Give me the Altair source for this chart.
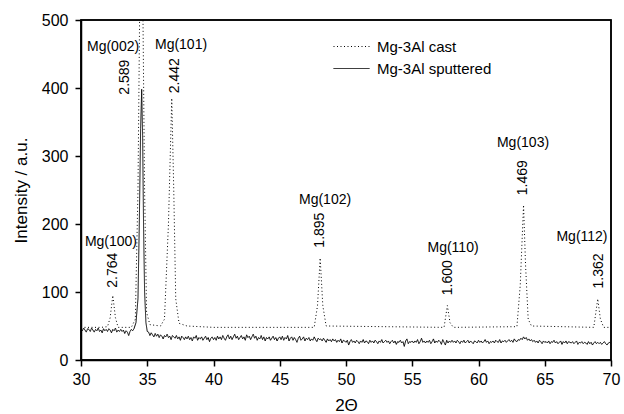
import altair as alt
import numpy as np
import pandas as pd

FONT = "Liberation Sans"

# --- Mg-3Al cast (dotted) ---
cast_x = [30.0, 31.5, 32.0, 32.2, 32.4, 32.6, 32.8, 33.8, 34.1, 34.3, 34.45, 34.65, 34.8, 34.95,
          35.2, 36.0, 36.3, 36.6, 36.85, 37.0, 37.15, 37.4, 38.0, 40.0, 47.6, 47.85, 48.05, 48.25,
          48.5, 57.4, 57.65, 57.85, 58.1, 62.9, 63.15, 63.4, 63.55, 63.75, 64.0, 68.7, 69.0, 69.2,
          69.45, 70.0]
cast_y = [48, 48, 49, 62, 95, 62, 48, 48, 60, 250, 560, 560, 250, 70,
          52, 50, 60, 200, 385, 250, 90, 54, 50, 48, 48, 80, 150, 80,
          50, 48, 80, 55, 48, 49, 110, 228, 140, 60, 50, 48, 90, 60,
          48, 48]

# --- Mg-3Al sputtered (solid) ---
sput_pre_y = [
    46, 43, 47, 44, 41, 46, 45, 42, 47, 44,
    41, 45, 43, 47, 42, 44, 40, 46, 43, 45,
    42, 46, 44, 40, 45, 43, 47, 41, 44, 42,
    45, 42, 44, 39, 43, 41, 36, 42, 45, 43,
    46,
]
sput_peak_x = [34.15, 34.3, 34.4, 34.5, 34.58, 34.65, 34.72, 34.8, 34.9, 35.0]
sput_peak_y = [55, 90, 200, 340, 398, 330, 200, 100, 55, 42]
sput_post_y = [
    41, 36, 40, 37, 34, 39, 35, 38, 33, 37,
    35, 31, 36, 34, 38, 33, 35, 30, 36, 34,
    32, 36, 31, 34, 29, 35, 33, 30, 34, 31,
    35, 30, 33, 28, 34, 32, 36, 29, 33, 31,
    34, 29, 32, 35, 30, 33, 27, 32, 34, 30,
    33, 29, 35, 31, 34, 30, 36, 32, 29, 34,
    37, 31, 35, 30, 34, 38, 32, 35, 30, 33,
    36, 31, 34, 29, 37, 33, 35, 30, 34, 38,
    32, 35, 29, 33, 31, 36, 30, 34, 28, 33,
    31, 34, 29, 32, 35, 30, 33, 28, 32, 34,
    30, 35, 29, 33, 31, 36, 28, 32, 34, 29,
    33, 30, 26, 32, 35, 29, 31, 34, 28, 32,
    30, 33, 28, 31, 29, 34, 30, 27, 32, 30,
    31, 28, 32, 29, 26, 31, 28, 30, 27, 31,
    28, 30, 26, 29, 27, 31, 25, 29, 28, 26,
    29, 22, 27, 30, 26, 28, 25, 29, 27, 24,
    28, 26, 30, 25, 28, 27, 24, 29, 26, 28,
    25, 29, 27, 24, 28, 26, 30, 25, 27, 29,
    26, 28, 24, 27, 29, 25, 28, 23, 27, 26,
    29, 25, 27, 20, 28, 31, 24, 27, 26, 28,
    25, 28, 26, 30, 24, 27, 32, 26, 28, 25,
    28, 26, 29, 24, 27, 31, 25, 28, 26, 29,
    27, 23, 30, 26, 22, 29, 25, 28, 26, 29,
    26, 28, 25, 29, 27, 24, 28, 26, 29, 25,
    27, 29, 25, 28, 26, 24, 28, 27, 25, 29,
    26, 28, 25, 27, 30, 26, 28, 24, 27, 26,
    28, 25, 29, 27, 26, 30, 25, 28, 27, 29,
    26, 28, 30, 27, 29, 26, 31, 28, 27, 30,
    29, 32, 30, 34, 31, 33, 29, 31, 28, 30,
    27, 29, 26, 28, 25, 29, 27, 24, 28, 26,
    27, 25, 28, 24, 27, 26, 29, 25, 27, 24,
    26, 28, 23, 27, 25, 28, 24, 27, 26, 25,
    27, 24, 26, 28, 23, 26, 25, 27, 24, 26,
    25, 23, 27, 24, 26, 22, 25, 27, 24, 26,
    24, 26, 23, 25, 27, 24, 22, 25, 26, 24,
]
sput_pre_x = list(np.round(30.0 + 0.1 * np.arange(len(sput_pre_y)), 2))
sput_post_x = list(np.round(35.1 + 0.1 * np.arange(len(sput_post_y)), 2))

# --- peak annotations ---
plane_labels = ["Mg(100)", "Mg(002)", "Mg(101)", "Mg(102)", "Mg(110)", "Mg(103)", "Mg(112)"]
plane_x = [32.26, 32.42, 37.55, 48.42, 58.08, 63.36, 67.81]
plane_y = [173, 460, 463, 235, 165, 319, 181]

d_labels = ["2.764", "2.589", "2.442", "1.895", "1.600", "1.469", "1.362"]
d_x = [32.42, 33.32, 37.09, 48.04, 57.70, 63.36, 69.09]
d_y = [132, 416, 418, 191, 121, 268, 131]

x_ticks = [30, 32.5, 35, 37.5, 40, 42.5, 45, 47.5, 50, 52.5, 55, 57.5, 60, 62.5, 65, 67.5, 70]
y_ticks = [0, 50, 100, 150, 200, 250, 300, 350, 400, 450, 500]
x_range = [30, 70]
y_range = [0, 500]

series_names = ["Mg-3Al cast", "Mg-3Al sputtered"]

lines = pd.concat([
    pd.DataFrame({"x": cast_x, "y": cast_y, "series": series_names[0]}),
    pd.DataFrame({"x": sput_pre_x + sput_peak_x + sput_post_x,
                  "y": sput_pre_y + sput_peak_y + sput_post_y,
                  "series": series_names[1]}),
], ignore_index=True)

planes = pd.DataFrame({"x": plane_x, "y": plane_y, "t": plane_labels})
ds = pd.DataFrame({"x": d_x, "y": d_y, "t": d_labels})

xscale = alt.Scale(domain=x_range, nice=False, zero=False)
yscale = alt.Scale(domain=y_range, nice=False)

line_layer = alt.Chart(lines).mark_line(color="black", strokeWidth=1, clip=True).encode(
    x=alt.X("x:Q", scale=xscale,
            axis=alt.Axis(title="2Θ", values=x_ticks, format="~g", grid=False,
                          labelOverlap=False, labelFlush=False, labelPadding=5, titlePadding=10,
                          labelExpr="datum.value % 5 === 0 ? datum.label : ''",
                          tickSize={"condition": {"test": "datum.value % 5 === 0", "value": 6},
                                    "value": 3})),
    y=alt.Y("y:Q", scale=yscale,
            axis=alt.Axis(title="Intensity / a.u.", values=y_ticks, format="d", grid=False,
                          labelOverlap=False, labelFlush=False, labelPadding=7, titlePadding=11,
                          labelExpr="datum.value % 100 === 0 ? datum.label : ''",
                          tickSize={"condition": {"test": "datum.value % 100 === 0", "value": 6},
                                    "value": 3})),
    strokeDash=alt.StrokeDash(
        "series:N",
        scale=alt.Scale(domain=series_names, range=[[1, 2.5], [1, 0]]),
        legend=alt.Legend(orient="none", legendX=263, legendY=19, title=None,
                          symbolType="M-3,0H3", symbolSize=144, symbolStrokeColor="black",
                          symbolStrokeWidth=1, labelFontSize=15, labelFont=FONT,
                          labelColor="black", labelOffset=18, rowPadding=6, padding=0),
    ),
    detail="series:N",
)

frame_layer = alt.Chart(pd.DataFrame({"a": [0]})).mark_rect(
    filled=False, stroke="black", strokeWidth=1.5
).encode(
    x=alt.datum(x_range[0]), x2=alt.datum(x_range[1]),
    y=alt.datum(y_range[0]), y2=alt.datum(y_range[1]),
)

plane_layer = alt.Chart(planes).mark_text(
    font=FONT, fontSize=14, color="black", align="center", baseline="middle"
).encode(x="x:Q", y="y:Q", text="t:N")

d_layer = alt.Chart(ds).mark_text(
    font=FONT, fontSize=14, color="black", align="center", baseline="middle", angle=270
).encode(x="x:Q", y="y:Q", text="t:N")

chart = alt.layer(line_layer, frame_layer, plane_layer, d_layer).properties(
    width=530, height=340,
    autosize=alt.AutoSizeParams(type="none"),
    padding={"left": 81, "top": 20, "right": 13, "bottom": 54},
    view=alt.ViewBackground(stroke="black", strokeWidth=1.5),
).configure_view(
    stroke="black", strokeWidth=1.5
).configure_axis(
    domainColor="black", domainWidth=1.5, tickColor="black", tickWidth=1.5,
    labelFont=FONT, labelFontSize=16, labelColor="black",
    titleFont=FONT, titleFontSize=17, titleFontWeight="normal", titleColor="black",
)

chart.save("out.html", embed_options={"renderer": "svg", "actions": False})
